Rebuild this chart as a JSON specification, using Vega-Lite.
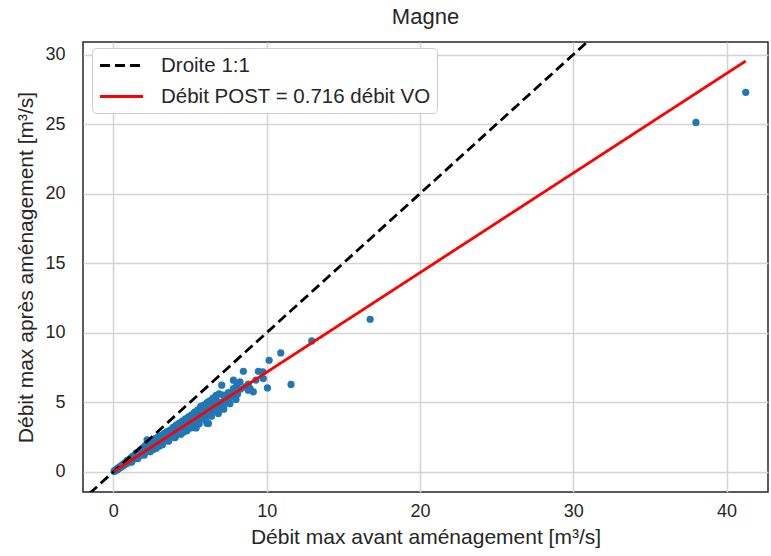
{
  "$schema": "https://vega.github.io/schema/vega-lite/v6.json",
  "width": 685,
  "height": 450,
  "autosize": {"type": "none"},
  "padding": {"left": 83, "top": 42, "right": 3, "bottom": 64},
  "background": "white",
  "config": {
    "font": "Liberation Sans",
    "view": {"stroke": "#262626", "strokeWidth": 1.5},
    "axis": {
      "grid": true, "gridColor": "#d4d4d4", "gridWidth": 1.5,
      "domain": false, "ticks": false,
      "labelFont": "Liberation Sans", "labelFontSize": 18, "labelColor": "#262626",
      "titleFont": "Liberation Sans", "titleFontSize": 21, "titleFontWeight": "normal", "titleColor": "#262626"
    },
    "legend": {
      "orient": "none", "legendX": 9, "legendY": 6,
      "fillColor": "white", "strokeColor": "#cccccc", "strokeWidth": 1, "cornerRadius": 4,
      "padding": 6, "rowPadding": 9,
      "labelFont": "Liberation Sans", "labelFontSize": 20.5, "labelColor": "#262626", "labelOffset": 28, "labelLimit": 400,
      "symbolType": "M-2.15,0H2.15", "symbolSize": 400, "symbolStrokeWidth": 2.8, "symbolOffset": 12
    }
  },
  "title": {"text": "Magne", "fontSize": 22, "fontWeight": "normal", "color": "#262626", "font": "Liberation Sans", "offset": 13, "anchor": "middle"},
  "datasets": {
    "pts": [
      {"x":0.05,"y":0.05},{"x":0.08,"y":0.06},{"x":0.1,"y":0.08},{"x":0.12,"y":0.09},{"x":0.14,"y":0.12},{"x":0.16,"y":0.11},{"x":0.18,"y":0.14},{"x":0.2,"y":0.16},{"x":0.22,"y":0.15},{"x":0.24,"y":0.2},{"x":0.26,"y":0.18},{"x":0.28,"y":0.21},{"x":0.3,"y":0.24},{"x":0.32,"y":0.22},{"x":0.35,"y":0.29},{"x":0.37,"y":0.26},{"x":0.4,"y":0.3},{"x":0.42,"y":0.34},{"x":0.45,"y":0.31},{"x":0.47,"y":0.38},{"x":0.5,"y":0.36},{"x":0.52,"y":0.42},{"x":0.55,"y":0.39},{"x":0.58,"y":0.47},{"x":0.6,"y":0.43},{"x":0.63,"y":0.5},{"x":0.65,"y":0.46},{"x":0.68,"y":0.56},{"x":0.7,"y":0.5},{"x":0.73,"y":0.58},{"x":0.76,"y":0.53},{"x":0.79,"y":0.65},{"x":0.82,"y":0.59},{"x":0.85,"y":0.68},{"x":0.88,"y":0.62},{"x":0.91,"y":0.75},{"x":0.94,"y":0.66},{"x":0.97,"y":0.74},{"x":1.0,"y":0.71},{"x":0.9,"y":0.82},
      {"x":1.02,"y":0.86},{"x":1.05,"y":0.74},{"x":1.08,"y":0.82},{"x":1.1,"y":0.78},{"x":1.13,"y":0.93},{"x":1.16,"y":0.8},{"x":1.19,"y":0.88},{"x":1.2,"y":1.0},{"x":1.22,"y":0.85},{"x":1.25,"y":1.04},{"x":1.28,"y":0.9},{"x":1.31,"y":0.97},{"x":1.34,"y":0.94},{"x":1.37,"y":1.12},{"x":1.4,"y":0.98},{"x":1.43,"y":1.06},{"x":1.46,"y":1.02},{"x":1.5,"y":1.22},{"x":1.5,"y":1.36},{"x":1.53,"y":1.06},{"x":1.56,"y":1.14},{"x":1.6,"y":1.12},{"x":1.64,"y":1.35},{"x":1.68,"y":1.16},{"x":1.72,"y":1.5},{"x":1.75,"y":1.24},{"x":1.79,"y":1.3},{"x":1.83,"y":1.28},{"x":1.87,"y":1.55},{"x":1.9,"y":1.32},{"x":1.94,"y":1.4},{"x":1.98,"y":1.38},{"x":2.0,"y":1.25},{"x":2.02,"y":1.68},{"x":2.06,"y":1.44},{"x":2.1,"y":1.52},{"x":2.14,"y":1.5},{"x":2.2,"y":2.3},{"x":2.22,"y":1.8},{"x":2.25,"y":1.56},{"x":2.3,"y":1.66},{"x":2.35,"y":1.62},{"x":2.4,"y":1.9},{"x":2.45,"y":1.7},{"x":2.5,"y":1.8},{"x":2.55,"y":1.76},{"x":2.6,"y":2.05},{"x":2.6,"y":1.6},{"x":2.65,"y":1.84},{"x":2.7,"y":1.92},{"x":2.75,"y":1.9},{"x":2.8,"y":2.15},{"x":2.85,"y":1.96},{"x":2.9,"y":2.05},{"x":2.95,"y":2.04},{"x":3.0,"y":2.3},{"x":3.0,"y":1.85},
      {"x":3.05,"y":2.1},{"x":3.1,"y":2.2},{"x":3.15,"y":2.45},{"x":3.2,"y":2.18},{"x":3.25,"y":2.32},{"x":3.3,"y":2.28},{"x":3.35,"y":2.6},{"x":3.4,"y":2.35},{"x":3.45,"y":2.45},{"x":3.5,"y":2.4},{"x":3.55,"y":2.75},{"x":3.6,"y":2.48},{"x":3.65,"y":2.6},{"x":3.7,"y":2.55},{"x":3.75,"y":2.9},{"x":3.8,"y":2.6},{"x":3.85,"y":2.7},{"x":3.9,"y":2.68},{"x":3.95,"y":3.05},{"x":4.0,"y":2.75},{"x":4.05,"y":2.5},{"x":4.1,"y":2.95},{"x":4.15,"y":2.85},{"x":4.2,"y":3.25},{"x":4.25,"y":2.9},{"x":4.3,"y":3.05},{"x":4.35,"y":2.95},{"x":4.4,"y":3.4},{"x":4.45,"y":3.05},{"x":4.5,"y":3.2},{"x":4.55,"y":2.85},{"x":4.6,"y":3.3},{"x":4.7,"y":3.55},{"x":4.75,"y":3.3},{"x":4.8,"y":3.4},{"x":4.9,"y":3.75},{"x":4.95,"y":3.4},{"x":5.0,"y":3.55},{"x":5.05,"y":3.15},{"x":5.1,"y":3.7},{"x":5.2,"y":4.0},{"x":5.25,"y":3.6},{"x":5.3,"y":3.75},{"x":5.4,"y":3.15},{"x":5.45,"y":3.9},{"x":5.5,"y":4.2},{"x":5.54,"y":3.71},{"x":5.55,"y":3.7},
      {"x":5.6,"y":4.0},{"x":5.7,"y":4.45},{"x":5.75,"y":3.85},{"x":5.85,"y":4.3},{"x":5.87,"y":4.31},{"x":5.9,"y":4.15},{"x":6.0,"y":4.6},{"x":6.05,"y":4.1},{"x":6.1,"y":3.5},{"x":6.15,"y":4.4},{"x":6.2,"y":5.03},{"x":6.2,"y":3.48},{"x":6.25,"y":4.25},{"x":6.35,"y":4.6},{"x":6.45,"y":4.85},{"x":6.5,"y":4.4},{"x":6.6,"y":4.75},{"x":6.7,"y":5.2},{"x":6.8,"y":4.55},{"x":6.85,"y":4.2},{"x":6.95,"y":5.0},{"x":7.07,"y":6.23},{"x":7.1,"y":4.7},{"x":7.18,"y":4.67},{"x":7.18,"y":5.51},{"x":7.25,"y":5.1},{"x":7.4,"y":5.3},{"x":7.5,"y":5.7},{"x":7.55,"y":5.0},{"x":7.72,"y":5.39},{"x":7.83,"y":5.99},{"x":7.83,"y":6.59},{"x":8.05,"y":6.23},{"x":8.1,"y":5.6},{"x":8.26,"y":6.47},{"x":8.48,"y":7.23},{"x":8.6,"y":6.1},{"x":8.8,"y":5.87},{"x":8.92,"y":5.99},{"x":9.13,"y":5.75},{"x":9.46,"y":7.23},{"x":9.75,"y":7.18},{"x":9.78,"y":6.71},{"x":10.05,"y":6.03},{"x":10.16,"y":8.02},{"x":10.92,"y":8.55},{"x":11.59,"y":6.28},{"x":12.94,"y":9.41},{"x":16.75,"y":10.97},{"x":38.0,"y":25.12},{"x":41.25,"y":27.28},
      {"x":0.3,"y":0.27},{"x":0.45,"y":0.4},{"x":0.6,"y":0.52},{"x":0.75,"y":0.64},{"x":0.95,"y":0.8},{"x":1.1,"y":0.95},{"x":1.25,"y":1.12},{"x":1.4,"y":1.2},{"x":1.55,"y":1.32},{"x":1.7,"y":1.4},{"x":1.85,"y":1.62},{"x":2.0,"y":1.8},{"x":2.15,"y":1.95},{"x":2.3,"y":2.1},{"x":2.45,"y":2.15},{"x":2.6,"y":2.3},{"x":2.75,"y":2.4},{"x":2.9,"y":2.5},{"x":3.1,"y":2.6},{"x":3.3,"y":2.75},{"x":3.5,"y":2.9},{"x":3.7,"y":3.0},{"x":3.9,"y":3.2},{"x":4.1,"y":3.35},{"x":4.3,"y":3.5},{"x":4.5,"y":3.65},{"x":4.7,"y":3.8},{"x":4.9,"y":3.95},{"x":5.1,"y":4.1},{"x":5.3,"y":4.3},{"x":5.5,"y":4.45},{"x":5.7,"y":4.7},{"x":5.9,"y":4.8},{"x":6.1,"y":4.95},{"x":6.3,"y":5.1},{"x":6.5,"y":5.3},{"x":6.7,"y":5.5},{"x":6.9,"y":5.6},
      {"x":1.2,"y":0.7},{"x":1.6,"y":0.95},{"x":2.0,"y":1.2},{"x":2.4,"y":1.45},{"x":2.8,"y":1.7},{"x":3.2,"y":1.95},{"x":3.6,"y":2.2},{"x":4.0,"y":2.45},{"x":4.4,"y":2.7},{"x":4.8,"y":2.95},{"x":5.2,"y":3.2},{"x":5.6,"y":3.45},{"x":6.0,"y":3.75},{"x":6.4,"y":4.0},{"x":6.8,"y":4.3},{"x":7.2,"y":4.5},{"x":7.6,"y":4.9},{"x":8.0,"y":5.2},
      {"x":3.3,"y":2.45},{"x":3.8,"y":2.8},{"x":4.3,"y":3.15},{"x":4.8,"y":3.55},{"x":5.3,"y":3.95},{"x":5.8,"y":4.25},{"x":6.3,"y":4.6},{"x":6.8,"y":4.95},{"x":7.3,"y":5.3},{"x":7.8,"y":5.6},{"x":8.3,"y":5.95},{"x":8.8,"y":6.3},{"x":9.3,"y":6.6}
    ],
    "lines": [
      {"series":"Droite 1:1","x":-3,"y":-3},
      {"series":"Droite 1:1","x":45,"y":45},
      {"series":"Débit POST = 0.716 débit VO","x":0.05,"y":0.036},
      {"series":"Débit POST = 0.716 débit VO","x":41.25,"y":29.535}
    ]
  },
  "layer": [
    {
      "data": {"name": "pts"},
      "mark": {"type": "circle", "size": 52, "color": "#1f77b4", "opacity": 1},
      "encoding": {
        "x": {"field": "x", "type": "quantitative", "scale": {"domain": [-1.98, 42.7], "nice": false, "zero": false},
              "axis": {"values": [0,10,20,30,40], "title": "Débit max avant aménagement [m³/s]", "labelPadding": 10, "titlePadding": 6}},
        "y": {"field": "y", "type": "quantitative", "scale": {"domain": [-1.45, 30.9], "nice": false, "zero": false},
              "axis": {"values": [0,5,10,15,20,25,30], "title": "Débit max après aménagement [m³/s]", "labelPadding": 18, "titlePadding": 8}}
      }
    },
    {
      "data": {"name": "lines"},
      "mark": {"type": "line", "strokeWidth": 2.8, "clip": true},
      "encoding": {
        "x": {"field": "x", "type": "quantitative"},
        "y": {"field": "y", "type": "quantitative"},
        "color": {"field": "series", "type": "nominal",
                  "scale": {"domain": ["Droite 1:1", "Débit POST = 0.716 débit VO"], "range": ["black", "red"]},
                  "legend": {"title": null}},
        "strokeDash": {"field": "series", "type": "nominal",
                  "scale": {"domain": ["Droite 1:1", "Débit POST = 0.716 débit VO"], "range": [[10, 5], [1, 0]]},
                  "legend": {"title": null}}
      }
    }
  ]
}
